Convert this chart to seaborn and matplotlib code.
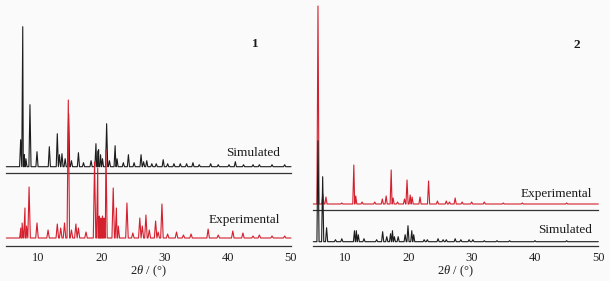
from __future__ import annotations

import matplotlib

matplotlib.use("Agg")
import matplotlib.pyplot as plt
import pandas as pd
import seaborn as sns
from matplotlib.ticker import MultipleLocator, NullFormatter


OUT = "out.png"
W_PX, H_PX = 610, 281

# peak tables: 2theta (deg) and intensity (a.u.)
sim1_pos = [7.27, 7.6, 7.85, 8.1, 8.74, 9.85, 11.8, 13.06, 13.4, 13.8, 14.3, 14.85, 15.3,
            16.4, 17.2, 18.4, 19.17, 19.45, 19.6, 19.9, 20.2, 20.86, 21.3, 22.2, 22.5,
            23.5, 24.3, 25.2, 26.3, 26.7, 27.2, 28.0, 28.7, 29.8, 30.5, 31.5, 32.5, 33.5,
            34.5, 35.5, 37.3, 38.5, 40.2, 41.2, 42.5, 44.0, 45.0, 47.0, 49.0]
sim1_int = [27, 140, 12, 8, 62, 15, 20, 33, 12, 13, 8, 53, 6,
            14, 4, 6, 23, 15, 17, 12, 8, 43, 6, 21, 8,
            4, 12, 4, 12, 5, 6, 3, 3, 7, 3, 3, 3, 3,
            4, 2, 3, 2, 2, 5, 2, 2, 2, 2, 2]

exp1_pos = [7.3, 7.5, 7.95, 8.2, 8.6, 9.85, 11.6, 13.06, 13.6, 14.2, 14.8, 15.3, 16.0,
            16.4, 17.6, 18.95, 19.45, 19.7, 19.95, 20.2, 20.45, 20.75, 21.9, 22.4, 22.7,
            24.07, 25.0, 26.1, 26.5, 27.07, 27.6, 28.6, 29.0, 29.6, 30.5, 31.9, 33.0,
            34.2, 36.9, 38.5, 40.8, 42.4, 44.0, 45.0, 47.0, 49.0]
exp1_int = [10, 15, 30, 12, 51, 15, 8, 14, 10, 15, 138, 8, 14,
            10, 6, 76, 70, 22, 20, 22, 20, 88, 50, 30, 12,
            35, 5, 20, 12, 23, 8, 17, 6, 34, 4, 6, 3,
            4, 9, 3, 7, 5, 2, 3, 2, 2]

exp2_pos = [5.74, 6.5, 7.0, 9.5, 11.4, 11.7, 12.7, 14.7, 15.9, 16.5, 17.3, 17.6, 18.3,
            19.4, 19.8, 20.3, 20.6, 21.85, 23.2, 24.6, 26.0, 26.5, 27.4, 28.5, 30.0,
            32.0, 35.0, 38.0, 45.0]
exp2_int = [198, 10, 7, 1, 39, 8, 2, 2, 5, 8, 34, 6, 2,
            5, 24, 9, 7, 7, 23, 3, 3, 2, 6, 2, 2,
            2, 1, 1, 1]

sim2_pos = [5.74, 6.48, 7.1, 8.5, 9.5, 11.5, 11.8, 12.1, 13.0, 15.0, 15.95, 16.6, 17.2,
            17.5, 17.8, 18.4, 19.5, 19.95, 20.55, 20.85, 22.5, 23.0, 24.7, 25.5, 26.0,
            27.4, 28.3, 29.6, 30.2, 32.0, 34.0, 36.0, 40.0, 45.0]
sim2_int = [101, 65, 14, 2, 3, 11, 11, 7, 3, 2, 10, 5, 8,
            11, 5, 5, 7, 16, 11, 7, 2, 2, 3, 2, 2,
            3, 2, 2, 2, 1, 1, 1, 1, 1]

RED = "#d41f2e"
BLACK = "#1c1c1c"
SPINE = "#333333"


def stick_profile(pos, inten, half):
    xs, ys = [5.0], [0.0]
    for p, h in zip(pos, inten):
        xs += [p - half, p, p + half]
        ys += [0.0, h, 0.0]
    xs.append(50.0)
    ys.append(0.0)
    df = pd.DataFrame({"two_theta": xs, "intensity": ys})
    return df.sort_values("two_theta", kind="stable").reset_index(drop=True)


def add_pattern_axes(fig, x0, x1, spine_y, top_y, offset, df, color, labels):
    h = spine_y - top_y
    ax = fig.add_axes([x0 / W_PX, (H_PX - spine_y) / H_PX, (x1 - x0) / W_PX, h / H_PX])
    ax.patch.set_alpha(0)
    sns.lineplot(data=df, x="two_theta", y="intensity", ax=ax, color=color,
                 lw=0.8, sort=False, estimator=None)
    for line in ax.lines:
        line.set_clip_on(False)
    ax.set_xlim(5, 50)
    ax.set_ylim(-offset, h - offset)
    for side in ("top", "left", "right"):
        ax.spines[side].set_visible(False)
    ax.spines["bottom"].set_color(SPINE)
    ax.spines["bottom"].set_linewidth(0.9)
    ax.set_yticks([])
    ax.xaxis.set_major_locator(MultipleLocator(10))
    ax.xaxis.set_minor_locator(MultipleLocator(5))
    ax.tick_params(axis="x", which="major", direction="out", length=3.2, width=0.8,
                   color=SPINE, pad=1.0, labelsize=9, labelcolor="#222222")
    ax.tick_params(axis="x", which="minor", direction="out", length=2.2, width=0.8,
                   color=SPINE)
    if not labels:
        ax.xaxis.set_major_formatter(NullFormatter())
    ax.set_xlabel("")
    ax.set_ylabel("")
    return ax


def main() -> None:
    sns.set_style("white")
    plt.rcParams["font.family"] = ["Liberation Serif", "DejaVu Serif"]
    plt.rcParams["mathtext.fontset"] = "custom"
    plt.rcParams["mathtext.rm"] = "Liberation Serif"
    plt.rcParams["mathtext.it"] = "Liberation Serif:italic"

    fig = plt.figure(figsize=(W_PX / 100, H_PX / 100), dpi=100, facecolor="#fafafa")

    lx0, lx1 = 6.3, 291.0
    rx0, rx1 = 313.3, 598.3

    # panel 1: simulated on top, experimental below
    add_pattern_axes(fig, lx0, lx1, 172.5, 10, 5.8, stick_profile(sim1_pos, sim1_int, 0.17),
                     BLACK, False)
    add_pattern_axes(fig, lx0, lx1, 245.7, 172.5, 7.7, stick_profile(exp1_pos, exp1_int, 0.2),
                     RED, True)

    # panel 2: experimental on top, simulated below
    add_pattern_axes(fig, rx0, rx1, 210.0, 5, 6.0, stick_profile(exp2_pos, exp2_int, 0.17),
                     RED, False)
    add_pattern_axes(fig, rx0, rx1, 245.7, 210.0, 4.0, stick_profile(sim2_pos, sim2_int, 0.17),
                     BLACK, True)

    def ftext(x, y, s, **kw):
        fig.text(x / W_PX, 1 - y / H_PX, s, va="center", color="#1a1a1a", **kw)

    ftext(280, 153, "Simulated", ha="right", fontsize=9.5)
    ftext(280, 220, "Experimental", ha="right", fontsize=9.5)
    ftext(592, 194, "Experimental", ha="right", fontsize=9.5)
    ftext(592, 230, "Simulated", ha="right", fontsize=9.5)
    ftext(255, 44, "1", ha="center", fontsize=9.5, fontweight="bold")
    ftext(577, 45, "2", ha="center", fontsize=9.5, fontweight="bold")
    xlab = r"$\mathit{2\theta}$ / (°)"
    ftext((lx0 + lx1) / 2, 271, xlab, ha="center", fontsize=9)
    ftext((rx0 + rx1) / 2, 271, xlab, ha="center", fontsize=9)

    fig.savefig(OUT, dpi=100, facecolor=fig.get_facecolor())
    plt.close(fig)


if __name__ == "__main__":
    main()
